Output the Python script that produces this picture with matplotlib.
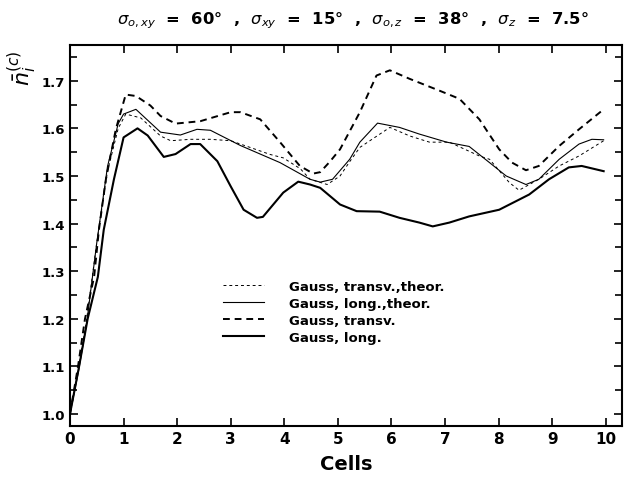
import matplotlib
matplotlib.use("Agg")
import matplotlib.pyplot as plt
from matplotlib.ticker import MultipleLocator, FormatStrFormatter

plt.rcParams['font.family'] = ['DejaVu Sans']
plt.rcParams['mathtext.fontset'] = 'dejavusans'

# Gauss, transv., theor. (thin dashed)
x_tt = [0.0, 0.15, 0.3, 0.5, 0.7, 0.9, 1.04, 1.32, 1.69, 1.88, 2.25, 2.62, 3.0, 3.36,
        3.74, 3.98, 4.3, 4.48, 4.8, 5.04, 5.22, 5.41, 5.97, 6.34, 6.71, 7.08, 7.64,
        7.83, 8.2, 8.38, 8.75, 9.13, 9.5, 9.96]
y_tt = [1.0, 1.09, 1.19, 1.36, 1.51, 1.60, 1.630, 1.622, 1.584, 1.574, 1.577, 1.577,
        1.574, 1.560, 1.545, 1.538, 1.515, 1.493, 1.482, 1.500, 1.530, 1.560, 1.602,
        1.584, 1.571, 1.571, 1.542, 1.535, 1.486, 1.470, 1.493, 1.521, 1.542, 1.574]

# Gauss, long., theor. (thin solid)
x_lt = [0.0, 0.16, 0.31, 0.5, 0.7, 0.9, 1.0, 1.23, 1.69, 2.06, 2.37, 2.62, 3.18, 3.92,
        4.48, 4.67, 4.9, 5.22, 5.41, 5.74, 6.15, 6.52, 7.03, 7.45, 7.83, 8.14, 8.51,
        8.75, 9.13, 9.5, 9.74, 9.96]
y_lt = [1.0, 1.09, 1.19, 1.36, 1.52, 1.61, 1.630, 1.640, 1.592, 1.586, 1.598, 1.596,
        1.564, 1.528, 1.493, 1.487, 1.493, 1.535, 1.571, 1.611, 1.602, 1.588, 1.571,
        1.562, 1.528, 1.500, 1.482, 1.493, 1.535, 1.567, 1.577, 1.576]

# Gauss, transv. (thick dashed)
x_tr = [0.0, 0.15, 0.28, 0.45, 0.54, 0.67, 0.855, 1.04, 1.23, 1.5, 1.69, 1.97, 2.43,
        3.0, 3.18, 3.55, 3.92, 4.29, 4.54, 4.67, 4.85, 5.04, 5.41, 5.72, 5.97, 6.34,
        6.9, 7.27, 7.64, 8.01, 8.25, 8.51, 8.75, 9.13, 9.5, 9.96]
y_tr = [1.0, 1.10, 1.20, 1.288, 1.387, 1.493, 1.598, 1.671, 1.668, 1.648, 1.626, 1.610,
        1.615, 1.634, 1.634, 1.619, 1.571, 1.521, 1.505, 1.508, 1.530, 1.556, 1.634,
        1.711, 1.722, 1.704, 1.679, 1.662, 1.619, 1.556, 1.528, 1.512, 1.521, 1.563,
        1.598, 1.640]

# Gauss, long. (thick solid)
x_lo = [0.0, 0.17, 0.33, 0.52, 0.63, 0.82, 1.0, 1.26, 1.45, 1.75, 1.97, 2.25, 2.43,
        2.75, 3.0, 3.24, 3.49, 3.6, 3.98, 4.26, 4.48, 4.67, 5.04, 5.35, 5.78, 6.15,
        6.52, 6.77, 7.08, 7.45, 8.01, 8.57, 8.94, 9.31, 9.55, 9.96]
y_lo = [1.0, 1.10, 1.20, 1.288, 1.387, 1.493, 1.581, 1.600, 1.585, 1.540, 1.546, 1.567,
        1.567, 1.531, 1.478, 1.429, 1.412, 1.414, 1.465, 1.488, 1.482, 1.475, 1.440,
        1.426, 1.425, 1.412, 1.402, 1.394, 1.402, 1.415, 1.429, 1.461, 1.493, 1.518,
        1.521, 1.510]

fig = plt.figure(figsize=(6.25, 4.85), dpi=100)
ax = fig.add_axes([0.112, 0.12, 0.883, 0.785])

ax.plot(x_tt, y_tt, color='black', linewidth=0.7, linestyle=(0, (3, 3)),
        label='Gauss, transv.,theor.')
ax.plot(x_lt, y_lt, color='black', linewidth=0.8, label='Gauss, long.,theor.')
ax.plot(x_tr, y_tr, color='black', linewidth=1.4, linestyle=(0, (3.5, 2.5)),
        label='Gauss, transv.')
ax.plot(x_lo, y_lo, color='black', linewidth=1.5, label='Gauss, long.')

ax.set_xlim(0, 10.3)
ax.set_ylim(0.975, 1.775)
ax.xaxis.set_major_locator(MultipleLocator(1))
ax.yaxis.set_major_locator(MultipleLocator(0.1))
ax.yaxis.set_minor_locator(MultipleLocator(0.05))
ax.yaxis.set_major_formatter(FormatStrFormatter('%.1f'))
ax.tick_params(which='both', direction='in', top=True, right=True, width=1.2)
ax.tick_params(which='major', length=6)
ax.tick_params(axis='x', labelsize=11)
ax.tick_params(axis='y', labelsize=9.5)
ax.tick_params(which='minor', length=5)
for lab in ax.get_xticklabels() + ax.get_yticklabels():
    lab.set_fontweight('bold')
for sp in ax.spines.values():
    sp.set_linewidth(1.5)

ax.set_xlabel('Cells', fontsize=14, fontweight='bold', labelpad=6)

fig.text(0.565, 0.958, r'$\sigma_{o,xy}$  =  60°  ,  $\sigma_{xy}$  =  15°  ,  '
         r'$\sigma_{o,z}$  =  38°  ,  $\sigma_z$  =  7.5°',
         ha='center', va='center', fontsize=11.8, fontweight='bold')
fig.text(0.035, 0.86, r'$\bar{n}_i^{(c)}$', ha='center', va='center',
         fontsize=16, rotation=90)

leg = ax.legend(loc='upper left', bbox_to_anchor=(0.265, 0.40), frameon=False,
                fontsize=9.5, handlelength=3.1, handletextpad=1.9, labelspacing=0.3,
                borderpad=0)
for t in leg.get_texts():
    t.set_fontweight('bold')

fig.savefig('out.png', dpi=100)
